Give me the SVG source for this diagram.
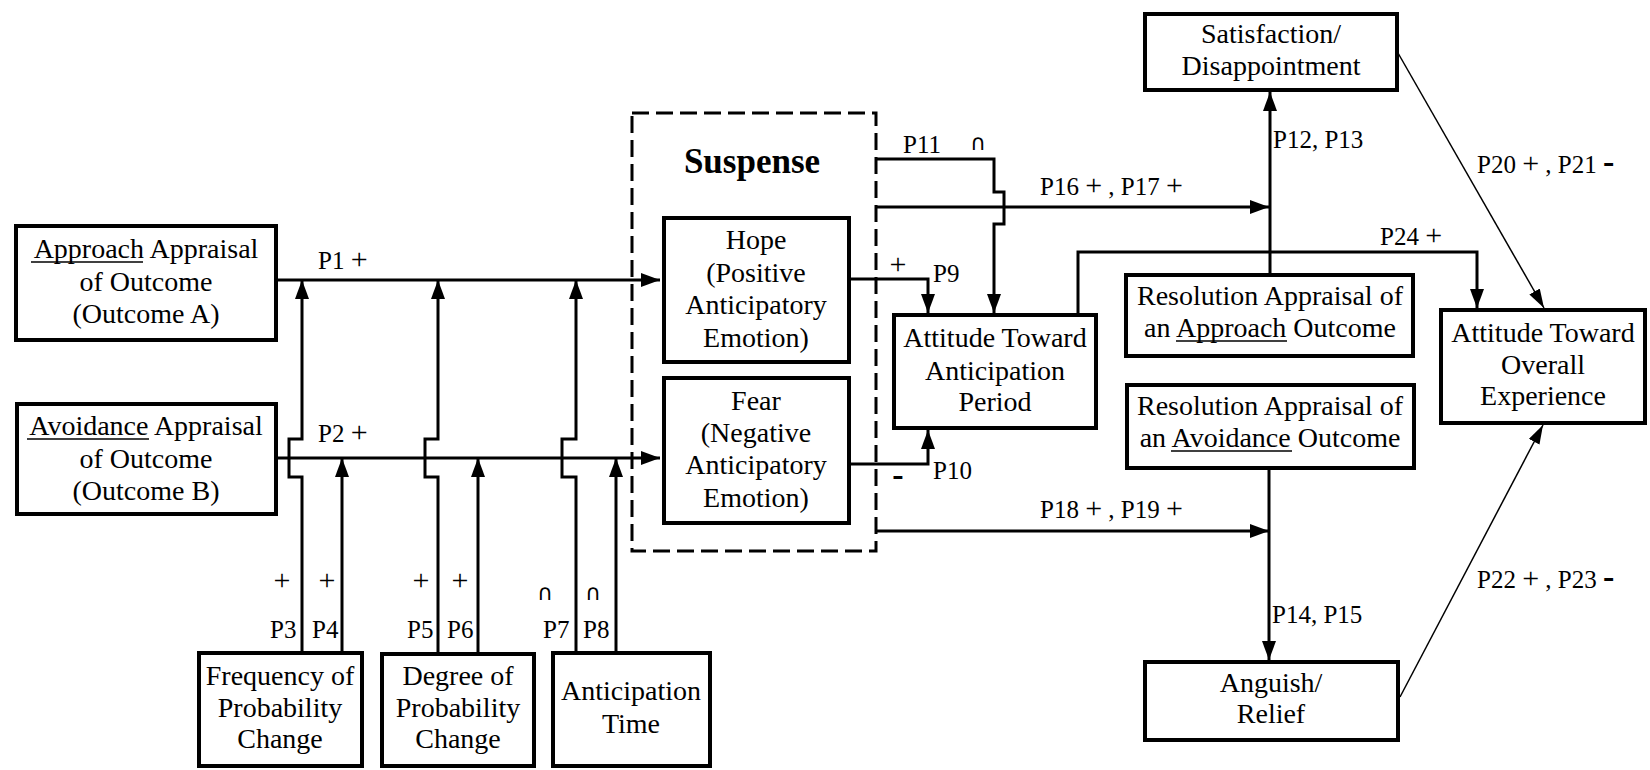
<svg xmlns="http://www.w3.org/2000/svg" width="1650" height="770" viewBox="0 0 1650 770">
  <style>
    .box { fill: #fff; stroke: #000; stroke-width: 4; }
    .dash { fill: none; stroke: #000; stroke-width: 3; stroke-dasharray: 17 7; }
    .ln { fill: none; stroke: #000; stroke-width: 3; }
    .thin { fill: none; stroke: #000; stroke-width: 1.5; }
    .ul { stroke: #000; stroke-width: 1.6; }
    .pl { font-size: 30px; }
    .neg { font-size: 34px; font-weight: bold; }
  </style>
  <defs>
    <marker id="arr" markerUnits="userSpaceOnUse" markerWidth="20" markerHeight="14" refX="19" refY="7" orient="auto">
      <path d="M0,0 L19,7 L0,14 z" fill="#000"/>
    </marker>
    <marker id="arrThin" markerUnits="userSpaceOnUse" markerWidth="20" markerHeight="12" refX="19" refY="6" orient="auto">
      <path d="M0,0 L19,6 L0,12 z" fill="#000"/>
    </marker>
  </defs>

  <rect width="1650" height="770" fill="#fff"/>

  <!-- connectors -->
  <g id="connectors">
    <path class="ln" d="M278,280 H660" marker-end="url(#arr)"/>
    <path class="ln" d="M278,458 H660" marker-end="url(#arr)"/>
    <path class="ln" d="M302,651 V477 H289 V439 H302 V280" marker-end="url(#arr)"/>
    <path class="ln" d="M342,651 V458" marker-end="url(#arr)"/>
    <path class="ln" d="M438,652 V477 H425 V439 H438 V280" marker-end="url(#arr)"/>
    <path class="ln" d="M478,652 V458" marker-end="url(#arr)"/>
    <path class="ln" d="M576,651 V477 H562 V439 H576 V280" marker-end="url(#arr)"/>
    <path class="ln" d="M616,651 V458" marker-end="url(#arr)"/>
    <path class="ln" d="M851,279 H928 V313" marker-end="url(#arr)"/>
    <path class="ln" d="M851,464 H928 V430" marker-end="url(#arr)"/>
    <path class="ln" d="M876,159 H994 V192 H1004 V224 H994 V313" marker-end="url(#arr)"/>
    <path class="ln" d="M876,207 H1269" marker-end="url(#arr)"/>
    <path class="ln" d="M876,531 H1269" marker-end="url(#arr)"/>
    <path class="ln" d="M1270,273 V92" marker-end="url(#arr)"/>
    <path class="ln" d="M1269,470 V660" marker-end="url(#arr)"/>
    <path class="ln" d="M1078,313 V252 H1477 V308" marker-end="url(#arr)"/>
    <path class="thin" d="M1398,53 L1544,308" marker-end="url(#arrThin)"/>
    <path class="thin" d="M1400,697 L1543,425" marker-end="url(#arrThin)"/>
  </g>

  <!-- connector labels -->
  <g id="labels" font-size="25" font-family="Liberation Serif, serif">
    <text x="318" y="269">P1 <tspan class="pl">+</tspan></text>
    <text x="318" y="442">P2 <tspan class="pl">+</tspan></text>
    <text class="pl" text-anchor="middle" x="282" y="590">+</text>
    <text class="pl" text-anchor="middle" x="327" y="590">+</text>
    <text class="pl" text-anchor="middle" x="421" y="590">+</text>
    <text class="pl" text-anchor="middle" x="460" y="590">+</text>
    <text font-family="DejaVu Sans, sans-serif" font-size="22" text-anchor="middle" x="545" y="600">∩</text>
    <text font-family="DejaVu Sans, sans-serif" font-size="22" text-anchor="middle" x="593" y="600">∩</text>
    <text x="270" y="638">P3</text>
    <text x="312" y="638">P4</text>
    <text x="407" y="638">P5</text>
    <text x="447" y="638">P6</text>
    <text x="543" y="638">P7</text>
    <text x="583" y="638">P8</text>
    <text class="pl" text-anchor="middle" x="898" y="274">+</text>
    <text x="933" y="282">P9</text>
    <text class="neg" text-anchor="middle" x="898" y="486">-</text>
    <text x="933" y="479">P10</text>
    <text x="903" y="153">P11</text>
    <text font-family="DejaVu Sans, sans-serif" font-size="22" text-anchor="middle" x="978" y="150">∩</text>
    <text x="1040" y="195">P16 <tspan class="pl">+</tspan> , P17 <tspan class="pl">+</tspan></text>
    <text x="1040" y="518">P18 <tspan class="pl">+</tspan> , P19 <tspan class="pl">+</tspan></text>
    <text x="1273" y="148">P12, P13</text>
    <text x="1272" y="623">P14, P15</text>
    <text x="1380" y="245">P24 <tspan class="pl">+</tspan></text>
    <text x="1477" y="173">P20 <tspan class="pl">+</tspan> , P21 <tspan class="neg">-</tspan></text>
    <text x="1477" y="588">P22 <tspan class="pl">+</tspan> , P23 <tspan class="neg">-</tspan></text>
  </g>

  <!-- suspense container -->
  <g id="suspense">
    <rect class="dash" x="632" y="113" width="244" height="438"/>
    <text font-family="Liberation Serif, serif" font-size="35" font-weight="bold" text-anchor="middle" x="752" y="173">Suspense</text>
  </g>

  <g id="approach" font-size="28" text-anchor="middle" font-family="Liberation Serif, serif">
    <rect class="box" x="16" y="226" width="260" height="114"/>
    <text x="146" y="258">Approach Appraisal</text>
    <line class="ul" x1="31" y1="262" x2="143" y2="262"/>
    <text x="146" y="291">of Outcome</text>
    <text x="146" y="323">(Outcome A)</text>
  </g>

  <g id="avoidance" font-size="28" text-anchor="middle" font-family="Liberation Serif, serif">
    <rect class="box" x="17" y="404" width="259" height="110"/>
    <text x="146" y="435">Avoidance Appraisal</text>
    <line class="ul" x1="27" y1="439" x2="149" y2="439"/>
    <text x="146" y="468">of Outcome</text>
    <text x="146" y="500">(Outcome B)</text>
  </g>

  <g id="hope" font-size="28" text-anchor="middle" font-family="Liberation Serif, serif">
    <rect class="box" x="664" y="218" width="185" height="144"/>
    <text x="756" y="249">Hope</text>
    <text x="756" y="282">(Positive</text>
    <text x="756" y="314">Anticipatory</text>
    <text x="756" y="347">Emotion)</text>
  </g>

  <g id="fear" font-size="28" text-anchor="middle" font-family="Liberation Serif, serif">
    <rect class="box" x="664" y="378" width="185" height="145"/>
    <text x="756" y="410">Fear</text>
    <text x="756" y="442">(Negative</text>
    <text x="756" y="474">Anticipatory</text>
    <text x="756" y="507">Emotion)</text>
  </g>

  <g id="attitude-period" font-size="28" text-anchor="middle" font-family="Liberation Serif, serif">
    <rect class="box" x="894" y="315" width="202" height="113"/>
    <text x="995" y="347">Attitude Toward</text>
    <text x="995" y="380">Anticipation</text>
    <text x="995" y="411">Period</text>
  </g>

  <g id="satisfaction" font-size="28" text-anchor="middle" font-family="Liberation Serif, serif">
    <rect class="box" x="1145" y="14" width="252" height="76"/>
    <text x="1271" y="43">Satisfaction/</text>
    <text x="1271" y="75">Disappointment</text>
  </g>

  <g id="resolution-approach" font-size="28" text-anchor="middle" font-family="Liberation Serif, serif">
    <rect class="box" x="1126" y="275" width="287" height="81"/>
    <text x="1270" y="305">Resolution Appraisal of</text>
    <text x="1270" y="337">an Approach Outcome</text>
    <line class="ul" x1="1176" y1="341" x2="1287" y2="341"/>
  </g>

  <g id="resolution-avoidance" font-size="28" text-anchor="middle" font-family="Liberation Serif, serif">
    <rect class="box" x="1127" y="385" width="287" height="83"/>
    <text x="1270" y="415">Resolution Appraisal of</text>
    <text x="1270" y="447">an Avoidance Outcome</text>
    <line class="ul" x1="1171" y1="451" x2="1292" y2="451"/>
  </g>

  <g id="anguish" font-size="28" text-anchor="middle" font-family="Liberation Serif, serif">
    <rect class="box" x="1145" y="662" width="253" height="78"/>
    <text x="1271" y="692">Anguish/</text>
    <text x="1271" y="723">Relief</text>
  </g>

  <g id="attitude-overall" font-size="28" text-anchor="middle" font-family="Liberation Serif, serif">
    <rect class="box" x="1441" y="310" width="204" height="113"/>
    <text x="1543" y="342">Attitude Toward</text>
    <text x="1543" y="374">Overall</text>
    <text x="1543" y="405">Experience</text>
  </g>

  <g id="frequency" font-size="28" text-anchor="middle" font-family="Liberation Serif, serif">
    <rect class="box" x="199" y="653" width="163" height="113"/>
    <text x="280" y="685">Frequency of</text>
    <text x="280" y="717">Probability</text>
    <text x="280" y="748">Change</text>
  </g>

  <g id="degree" font-size="28" text-anchor="middle" font-family="Liberation Serif, serif">
    <rect class="box" x="382" y="654" width="152" height="112"/>
    <text x="458" y="685">Degree of</text>
    <text x="458" y="717">Probability</text>
    <text x="458" y="748">Change</text>
  </g>

  <g id="anticipation-time" font-size="28" text-anchor="middle" font-family="Liberation Serif, serif">
    <rect class="box" x="553" y="653" width="157" height="113"/>
    <text x="631" y="700">Anticipation</text>
    <text x="631" y="733">Time</text>
  </g>
</svg>
